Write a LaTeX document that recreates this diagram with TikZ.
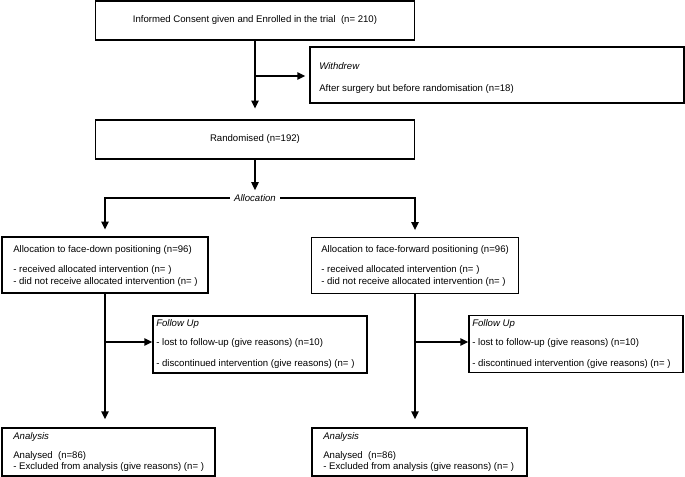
\documentclass[tikz,border=0pt]{standalone}
\usepackage{fontspec}
\setmainfont{Liberation Sans}
\usetikzlibrary{arrows.meta}

\tikzset{
  box/.style={draw, line width=1.1pt, rectangle, inner sep=0pt, font=\fontsize{7.2}{8.5}\selectfont},
  txt/.style={anchor=west, inner sep=0.75pt, font=\fontsize{7.2}{8.5}\selectfont},
  hd/.style={txt, font=\fontsize{7.2}{8.5}\selectfont\itshape},
  arr/.style={line width=1.1pt, -{Triangle[length=6pt,width=5.5pt]}},
}

\begin{document}
\begin{tikzpicture}[x=0.75pt,y=0.75pt,yscale=-1,xscale=1]
\useasboundingbox (0,0) rectangle (685,477);

%Shape: Rectangle [id:enrol]
\node [box, minimum width=239.25pt, minimum height=29.25pt] (enrol) at (255,20.5) {Informed Consent given and Enrolled in the trial\ \ (n= 210)};
%Shape: Rectangle [id:withdrew]
\node [box, minimum width=280.5pt, minimum height=42pt] (withdrew) at (497,75) {};
%Shape: Rectangle [id:rand]
\node [box, minimum width=239.25pt, minimum height=29.25pt] (rand) at (255,139.5) {Randomised (n=192)};
% Text Node
\node [font=\fontsize{7.2}{8.5}\selectfont\itshape, inner sep=3pt] (alloc) at (255,198) {Allocation};

%Shape: Rectangle [id:down]
\node [box, minimum width=154.5pt, minimum height=42pt] (down) at (105,265) {};
%Shape: Rectangle [id:fwd]
\node [box, minimum width=155.25pt, minimum height=42pt] (fwd) at (415,265.5) {};
%Shape: Rectangle [id:fuL]
\node [box, minimum width=160.5pt, minimum height=42.75pt] (fuL) at (260,344.5) {};
%Shape: Rectangle [id:fuR]
\node [box, minimum width=160.5pt, minimum height=42.75pt] (fuR) at (576,344) {};
%Shape: Rectangle [id:anaL]
\node [box, minimum width=159.75pt, minimum height=36pt] (anaL) at (108.5,452) {};
%Shape: Rectangle [id:anaR]
\node [box, minimum width=161.25pt, minimum height=36pt] (anaR) at (419.5,452) {};

% Text Node
\node [hd] (wdHead) at (318,66) {Withdrew};
\node [txt] (wdText) at (318,89) {After surgery but before randomisation (n=18)};
% Text Node
\node [txt] (downA) at (12,250) {Allocation to face-down positioning (n=96)};
\node [txt] (downB) at (12,270) {- received allocated intervention (n= )};
\node [txt] (downC) at (12,282) {- did not receive allocated intervention (n= )};
% Text Node
\node [txt] (fwdA) at (320,250) {Allocation to face-forward positioning (n=96)};
\node [txt] (fwdB) at (320,270) {- received allocated intervention (n= )};
\node [txt] (fwdC) at (320,282) {- did not receive allocated intervention (n= )};
% Text Node
\node [hd] (fuLHead) at (155,324) {Follow Up};
\node [txt] (fuLA) at (155,343) {- lost to follow-up (give reasons) (n=10)};
\node [txt] (fuLB) at (155,364) {- discontinued intervention (give reasons) (n= )};
% Text Node
\node [hd] (fuRHead) at (471,324) {Follow Up};
\node [txt] (fuRA) at (471,343) {- lost to follow-up (give reasons) (n=10)};
\node [txt] (fuRB) at (471,364) {- discontinued intervention (give reasons) (n= )};
% Text Node
\node [hd] (anaLHead) at (12,437) {Analysis};
\node [txt] (anaLA) at (12,456) {Analysed\ \ (n=86)};
\node [txt] (anaLB) at (12,467) {- Excluded from analysis (give reasons) (n= )};
% Text Node
\node [hd] (anaRHead) at (322,437) {Analysis};
\node [txt] (anaRA) at (322,456) {Analysed\ \ (n=86)};
\node [txt] (anaRB) at (322,467) {- Excluded from analysis (give reasons) (n= )};

% Connection
\coordinate (wd) at (255,76);
\draw [arr, shorten >=8pt] (enrol) -- (rand);
\draw [arr, shorten >=3pt] (wd) -- (wd -| withdrew.west);
\draw [arr] (rand) -- (alloc);
\draw [arr, shorten >=5pt] (alloc.west) -| (down.north);
\draw [arr, shorten >=5pt] (alloc.east) -| (fwd.north);
% Connection
\coordinate (fl) at (105,342);
\coordinate (fr) at (415,342);
\draw [arr, shorten >=6pt] (down.south) -- (down.south |- anaL.north);
\draw [arr, shorten >=6pt] (fwd.south) -- (fwd.south |- anaR.north);
\draw [arr] (fl) -- (fl -| fuL.west);
\draw [arr] (fr) -- (fr -| fuR.west);

\end{tikzpicture}
\end{document}
